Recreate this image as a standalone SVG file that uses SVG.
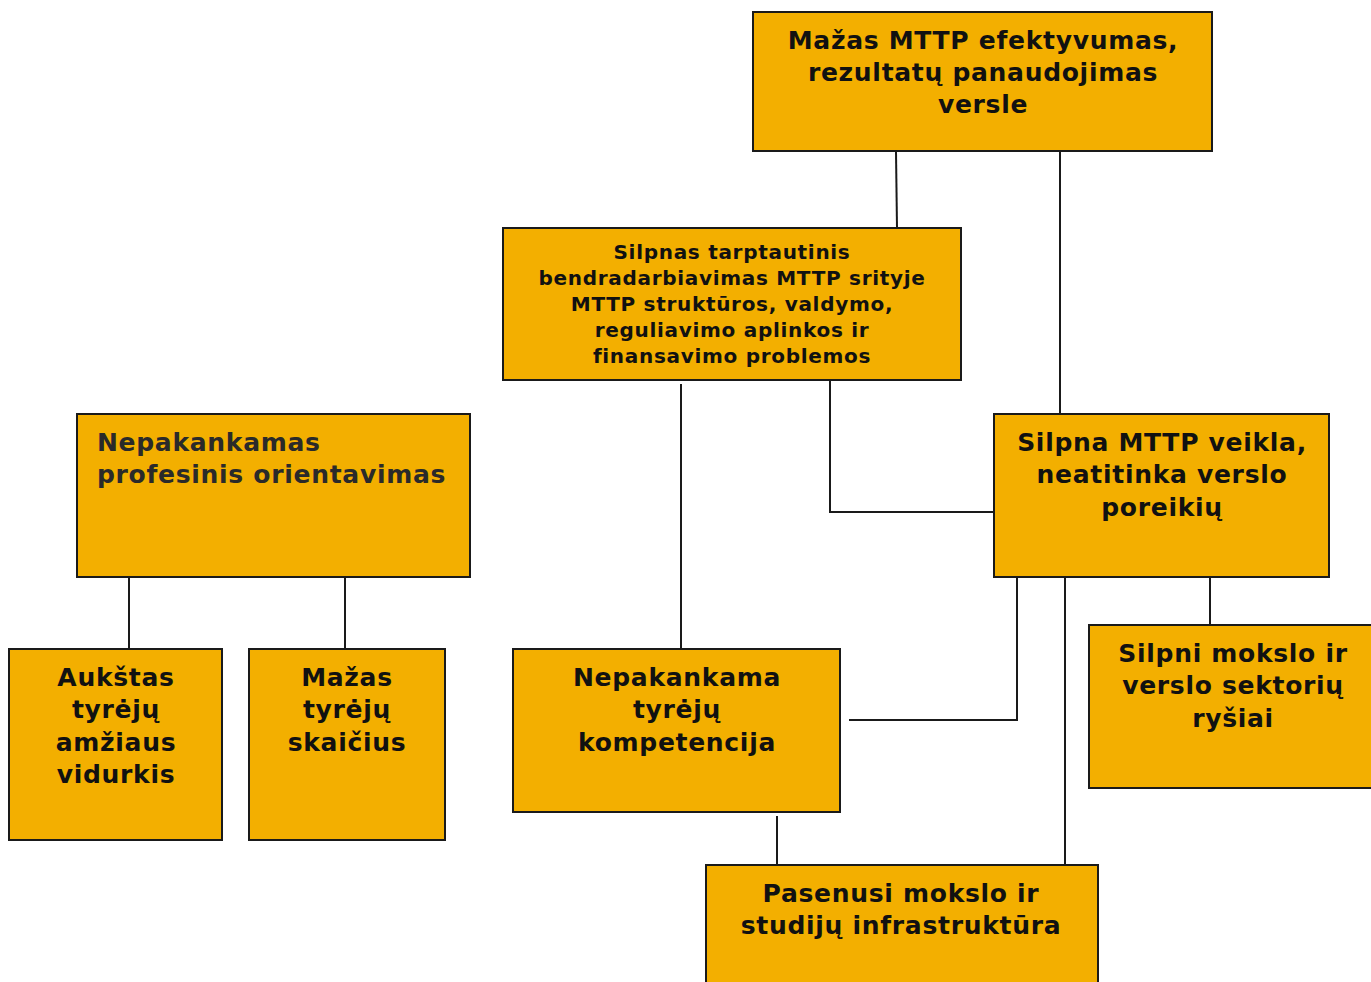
<svg xmlns="http://www.w3.org/2000/svg" width="1371" height="982" viewBox="0 0 1371 982">
<style>
.box{fill:#F3AF00;stroke:#1a1a1a;stroke-width:2}
.t{font-family:"DejaVu Sans",Verdana,sans-serif;font-weight:bold;font-size:25px;letter-spacing:0.7px;fill:#111;text-anchor:middle}
.s{font-size:20px;letter-spacing:0.7px}
.l{text-anchor:start;fill:#2a2a2a}
.c{fill:none;stroke:#1a1a1a;stroke-width:2}
</style>
<rect x="0" y="0" width="1371" height="982" fill="#fff"/>
<g id="connectors">
<path class="c" d="M896 152 L897 228"/>
<path class="c" d="M1060 152 L1060 414"/>
<path class="c" d="M681 384 L681 649"/>
<path class="c" d="M830 381 L830 512 L994 512"/>
<path class="c" d="M1017 577 L1017 720 L849 720"/>
<path class="c" d="M1065 577 L1065 865"/>
<path class="c" d="M1210 577 L1210 624"/>
<path class="c" d="M129 577 L129 649"/>
<path class="c" d="M345 577 L345 649"/>
<path class="c" d="M777 816 L777 865"/>
</g>
<g id="n1">
<rect class="box" x="753" y="12" width="459" height="139"/>
<text class="t" x="983" y="49">Mažas MTTP efektyvumas,</text>
<text class="t" x="983" y="81">rezultatų panaudojimas</text>
<text class="t" x="983" y="113">versle</text>
</g>
<g id="n2">
<rect class="box" x="503" y="228" width="458" height="152"/>
<text class="t s" x="732" y="259">Silpnas tarptautinis</text>
<text class="t s" x="732" y="285">bendradarbiavimas MTTP srityje</text>
<text class="t s" x="732" y="311">MTTP struktūros, valdymo,</text>
<text class="t s" x="732" y="337">reguliavimo aplinkos ir</text>
<text class="t s" x="732" y="363">finansavimo problemos</text>
</g>
<g id="n3">
<rect class="box" x="77" y="414" width="393" height="163"/>
<text class="t l" x="97" y="451">Nepakankamas</text>
<text class="t l" x="97" y="483">profesinis orientavimas</text>
</g>
<g id="n4">
<rect class="box" x="994" y="414" width="335" height="163"/>
<text class="t" x="1162" y="451">Silpna MTTP veikla,</text>
<text class="t" x="1162" y="483">neatitinka verslo</text>
<text class="t" x="1162" y="516">poreikių</text>
</g>
<g id="n5">
<rect class="box" x="1089" y="625" width="290" height="163"/>
<text class="t" x="1233" y="662">Silpni mokslo ir</text>
<text class="t" x="1233" y="694">verslo sektorių</text>
<text class="t" x="1233" y="727">ryšiai</text>
</g>
<g id="n6">
<rect class="box" x="9" y="649" width="213" height="191"/>
<text class="t" x="116" y="686">Aukštas</text>
<text class="t" x="116" y="718">tyrėjų</text>
<text class="t" x="116" y="751">amžiaus</text>
<text class="t" x="116" y="783">vidurkis</text>
</g>
<g id="n7">
<rect class="box" x="249" y="649" width="196" height="191"/>
<text class="t" x="347" y="686">Mažas</text>
<text class="t" x="347" y="718">tyrėjų</text>
<text class="t" x="347" y="751">skaičius</text>
</g>
<g id="n8">
<rect class="box" x="513" y="649" width="327" height="163"/>
<text class="t" x="677" y="686">Nepakankama</text>
<text class="t" x="677" y="718">tyrėjų</text>
<text class="t" x="677" y="751">kompetencija</text>
</g>
<g id="n9">
<rect class="box" x="706" y="865" width="392" height="130"/>
<text class="t" x="901" y="902">Pasenusi mokslo ir</text>
<text class="t" x="901" y="934">studijų infrastruktūra</text>
</g>
</svg>
